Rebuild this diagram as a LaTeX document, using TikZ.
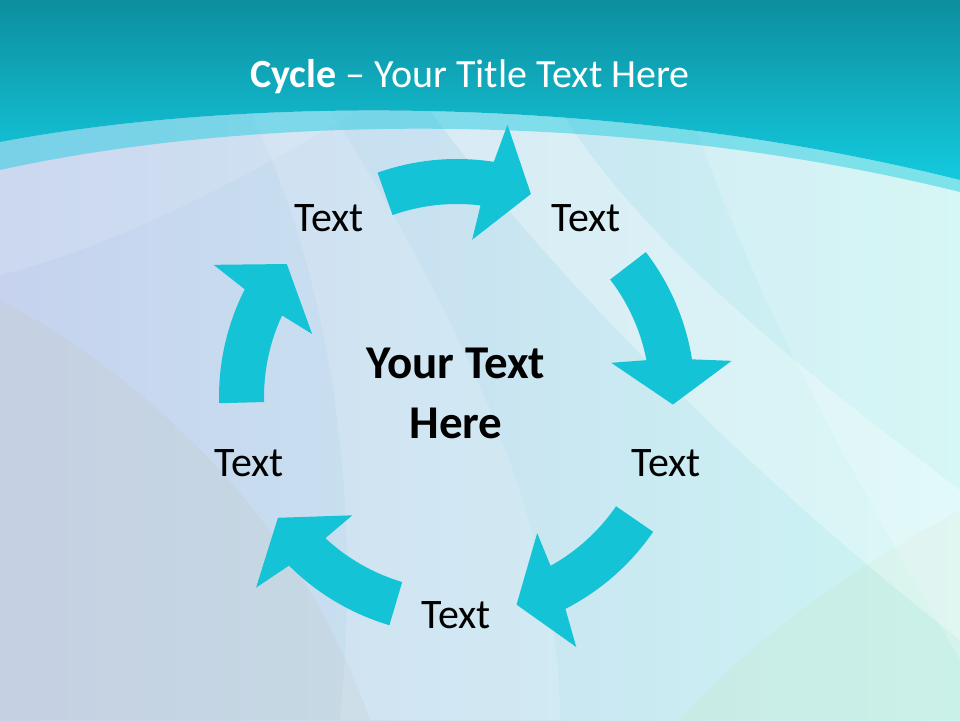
\documentclass[tikz,border=0pt]{standalone}
\usepackage{fontspec}
\setmainfont{Carlito}
\usetikzlibrary{calc}
\definecolor{cyclecyan}{RGB}{20,195,214}
\definecolor{headdark}{RGB}{12,142,158}
\definecolor{headlight}{RGB}{20,202,222}
\definecolor{bgleft}{RGB}{198,210,238}
\definecolor{bgright}{RGB}{204,246,244}
\definecolor{bggray}{RGB}{196,206,206}
\definecolor{bgmint}{RGB}{200,234,214}
\begin{document}
\begin{tikzpicture}[x=1pt,y=1pt,inner sep=0pt,outer sep=0pt,
cyclearrow/.style={fill=cyclecyan},
steptext/.style={anchor=base,font=\fontsize{42}{50}\selectfont},
glow/.style={fill=white,opacity=#1}]
\useasboundingbox (0,0) rectangle (960,720);
\clip (0,0) rectangle (960,720);
\shade[left color=bgleft,right color=bgright] (0,0) rectangle (960,720);
\fill[bggray,opacity=0.35] (0,0) -- (0,420) .. controls (150,340) and (300,200) .. (370,0) -- cycle;
\fill[bgmint,opacity=0.4] (960,0) -- (960,210) .. controls (850,150) and (750,80) .. (680,0) -- cycle;
\fill[glow=0.12] (0,445) .. controls (120,475) and (250,545) .. (360,610) -- (0,610) -- cycle;
\fill[glow=0.3] (430,610) .. controls (560,430) and (780,220) .. (960,80) -- (960,230) .. controls (800,350) and (640,480) .. (560,610) -- cycle;
\fill[glow=0.15] (340,0) .. controls (360,200) and (340,420) .. (250,610) -- (330,610) .. controls (450,420) and (560,200) .. (560,0) -- cycle;
\fill[glow=0.18] (690,610) .. controls (760,400) and (880,200) .. (960,60) -- (960,610) -- cycle;
\fill[headlight,opacity=0.45] (0,578) .. controls (250,625) and (620,625) .. (960,540) -- (960,528) .. controls (620,612) and (250,605) .. (0,550) -- cycle;
\shade[top color=headdark,bottom color=headlight] (0,720) -- (0,578) .. controls (250,625) and (620,625) .. (960,540) -- (960,720) -- cycle;
\node[anchor=base,text=white,font=\fontsize{40}{48}\selectfont] (title) at (470,632) {\textbf{Cycle} – Your Title Text Here};
\coordinate (hub) at (457,323);
\foreach \a in {90,18,-54,-126,162}
  \fill[cyclearrow] ($(hub)+(\a+19.5:238)$) arc[start angle=\a+19.5,end angle=\a-8.9,radius=238]
    -- ($(hub)+(\a-10.5:277)$) -- ($(hub)+(\a-20:216)$) -- ($(hub)+(\a-5.5:158)$)
    -- ($(hub)+(\a-7:193)$) arc[start angle=\a-7,end angle=\a+19.5,radius=193] -- cycle;
\node[steptext] (step1) at (329,488) {Text};
\node[steptext] (step2) at (586,488) {Text};
\node[steptext] (step3) at (666,243) {Text};
\node[steptext] (step4) at (456,92) {Text};
\node[steptext] (step5) at (249,243) {Text};
\node[anchor=base,align=center,font=\bfseries\fontsize{47}{60}\selectfont] (core) at (456,281) {Your Text\\Here};
\end{tikzpicture}
\end{document}
